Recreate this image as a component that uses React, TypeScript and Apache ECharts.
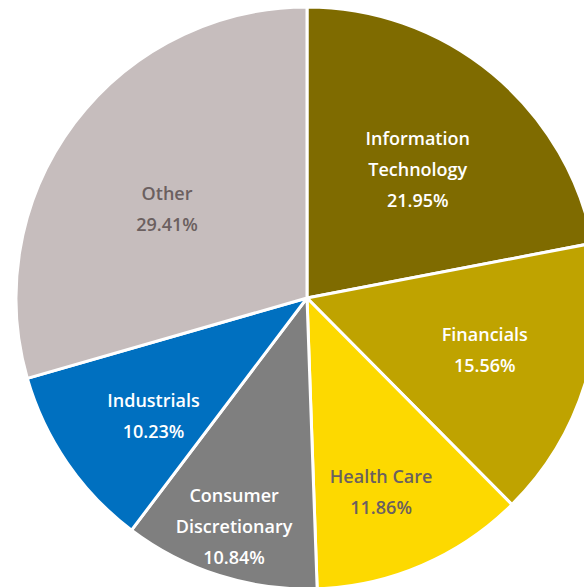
import React, { useEffect, useRef } from "react";
import * as echarts from "echarts";

const categories = [
  "Information\nTechnology",
  "Financials",
  "Health Care",
  "Consumer\nDiscretionary",
  "Industrials",
  "Other",
];
const values = [21.95, 15.56, 11.86, 10.84, 10.23, 29.41];
const colors = ["#7F6B00", "#BFA300", "#FDD900", "#7F7F7F", "#0070C0", "#C6BDBD"];
const labelColors = ["#FFFFFF", "#FFFFFF", "#6B6060", "#FFFFFF", "#FFFFFF", "#6B6060"];
// label placement: radial fraction of radius, and angular shift (deg) from slice middle
const labelRadius = [0.575, 0.626, 0.703, 0.812, 0.654, 0.561];
const labelAngleShift = [1.0, -1.0, 2.5, 0.2, -3.0, -4.4];

const CX = 307;
const CY = 298;
const R = 291;

export default function App() {
  const ref = useRef<HTMLDivElement>(null);
  useEffect(() => {
    if (!ref.current) return;
    const chart = echarts.init(ref.current, null, { renderer: "svg" });
    const total = values.reduce((a, b) => a + b, 0);
    let cum = 0;
    const data = values.map((v, i) => {
      const mid = ((cum + v / 2) / total) * 2 * Math.PI;
      cum += v;
      const t = mid + (labelAngleShift[i] * Math.PI) / 180;
      const r = labelRadius[i] * R;
      const dx = r * Math.sin(t) - 0.5 * R * Math.sin(mid);
      const dy = -r * Math.cos(t) + 0.5 * R * Math.cos(mid);
      return {
        name: categories[i],
        value: v,
        itemStyle: { color: colors[i] },
        label: { color: labelColors[i], offset: [dx, dy] },
      };
    });
    chart.setOption({
      animation: false,
      series: [
        {
          type: "pie",
          center: [CX, CY],
          radius: [0, R],
          startAngle: 90,
          clockwise: true,
          avoidLabelOverlap: false,
          itemStyle: { borderColor: "#FFFFFF", borderWidth: 3 },
          label: {
            show: true,
            position: "inside",
            formatter: (p: any) => `${p.name}\n${Number(p.value).toFixed(2)}%`,
            fontFamily: "Open Sans",
            fontSize: 18,
            fontWeight: 600,
            lineHeight: 31,
            align: "center",
          },
          labelLine: { show: false },
          emphasis: { disabled: true },
          data,
        },
      ],
    });
    return () => chart.dispose();
  }, []);
  return (
    <div
      ref={ref}
      style={{ position: "fixed", left: 0, top: 0, width: 584, height: 587, background: "#fff" }}
    />
  );
}
